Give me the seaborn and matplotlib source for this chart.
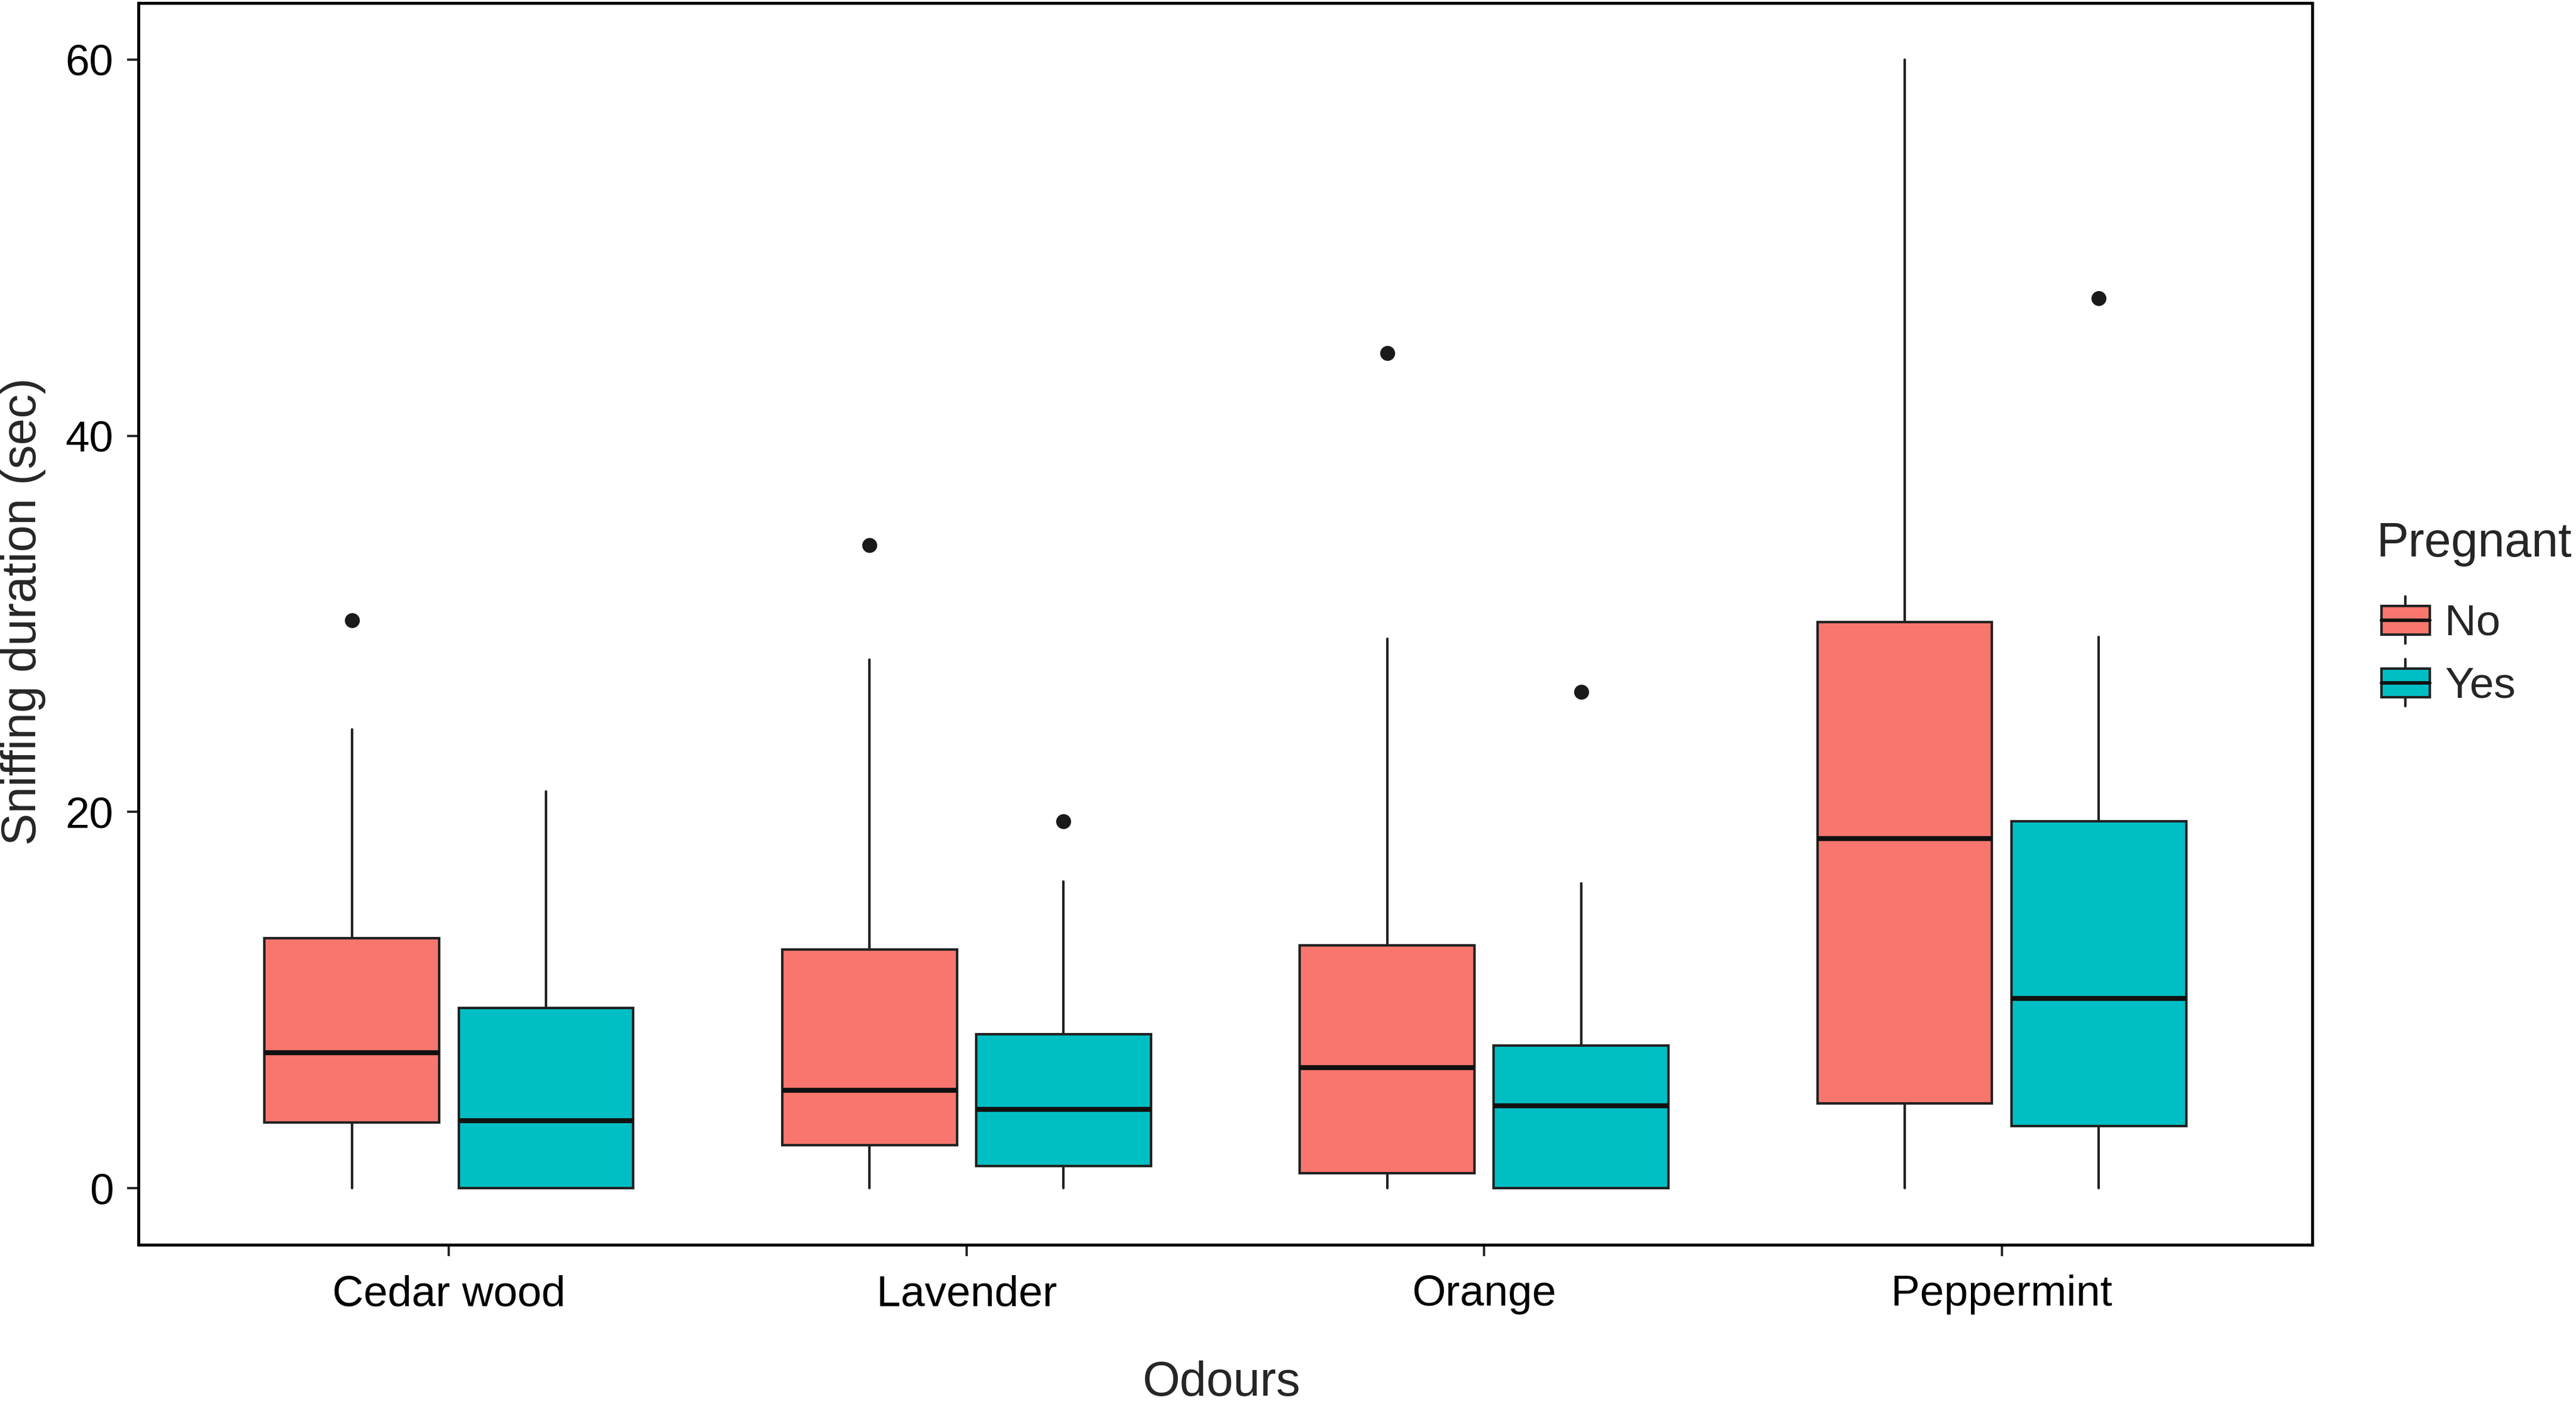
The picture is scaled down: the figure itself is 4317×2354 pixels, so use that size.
import matplotlib
matplotlib.use("Agg")
import matplotlib.pyplot as plt
import seaborn as sns
from matplotlib.legend_handler import HandlerBase
from matplotlib.patches import Rectangle, Patch
from matplotlib.lines import Line2D

# dados (resumo dos boxplots)
odours = ["Cedar wood", "Lavender", "Orange", "Peppermint"]
groups = ["No", "Yes"]

q1_no = [3.5, 2.3, 0.8, 4.5]
med_no = [7.2, 5.2, 6.4, 18.6]
q3_no = [13.3, 12.7, 12.9, 30.1]
lo_no = [0.0, 0.0, 0.0, 0.0]
hi_no = [24.4, 28.1, 29.2, 60.0]
out_no = [[30.2], [34.2], [44.4], []]

q1_yes = [0.0, 1.2, 0.0, 3.3]
med_yes = [3.6, 4.2, 4.4, 10.1]
q3_yes = [9.6, 8.2, 7.6, 19.5]
lo_yes = [0.0, 0.0, 0.0, 0.0]
hi_yes = [21.1, 16.3, 16.2, 29.3]
out_yes = [[], [19.5], [26.4], [47.3]]

yticks = [0, 20, 40, 60]

# estilo
sns.set_theme(style="white")
plt.rcParams['font.family'] = ['Liberation Sans', 'DejaVu Sans']
palette = sns.color_palette(["#F8766D", "#00BFC4"])
line_col = "#222222"


def make_stats(q1, med, q3, lo, hi, out):
    return [dict(q1=a, med=b, q3=c, whislo=d, whishi=e, fliers=f)
            for a, b, c, d, e, f in zip(q1, med, q3, lo, hi, out)]


stats = {
    "No": make_stats(q1_no, med_no, q3_no, lo_no, hi_no, out_no),
    "Yes": make_stats(q1_yes, med_yes, q3_yes, lo_yes, hi_yes, out_yes),
}

fig = plt.figure(figsize=(4317 / 300, 2354 / 300), dpi=300)
ax = fig.add_axes([232 / 4317, 1 - 2087 / 2354, (3875 - 232) / 4317, (2087 - 5) / 2354])

dodge = 0.1875
box_w = 0.3375
for k, g in enumerate(groups):
    offs = -dodge if k == 0 else dodge
    pos = [i + offs for i in range(len(odours))]
    ax.bxp(stats[g], positions=pos, widths=box_w, patch_artist=True,
           showcaps=False, manage_ticks=False,
           boxprops=dict(facecolor=palette[k], edgecolor=line_col, linewidth=1.0),
           whiskerprops=dict(color=line_col, linewidth=1.0),
           medianprops=dict(color="#111111", linewidth=2.0),
           flierprops=dict(marker="o", markerfacecolor="#1a1a1a",
                           markeredgecolor="#1a1a1a", markersize=5))

ax.set_xlim(-0.6, len(odours) - 1 + 0.6)
ax.set_ylim(-3, 63)
ax.set_xticks(range(len(odours)))
ax.set_xticklabels(odours, fontsize=17.4, color="black")
ax.set_yticks(yticks)
ax.set_yticklabels([str(t) for t in yticks], fontsize=17.4, color="black")
ax.tick_params(axis="both", which="major", length=4.5, width=0.9, color=line_col,
               bottom=True, left=True)
ax.tick_params(axis="x", pad=7.5)
ax.tick_params(axis="y", pad=5.5)

for sp in ax.spines.values():
    sp.set_visible(True)
    sp.set_color("black")
    sp.set_linewidth(1.2)

ax.set_xlabel("Odours", fontsize=19.4)
ax.set_ylabel("Sniffing duration (sec)", fontsize=19.4)
ax.xaxis.set_label_coords(0.498, -0.093)
ax.yaxis.set_label_coords(-0.0425, 0.51)


class BoxKey(HandlerBase):
    def create_artists(self, legend, orig_handle, xdescent, ydescent,
                       width, height, fontsize, trans):
        x0, y0 = -xdescent, -ydescent
        cx = x0 + width / 2
        whisk = Line2D([cx, cx], [y0, y0 + height], color=line_col, lw=1.0, transform=trans)
        box = Rectangle((x0, y0 + height * 0.2), width, height * 0.6,
                        facecolor=orig_handle.get_facecolor(), edgecolor=line_col,
                        lw=1.0, transform=trans)
        med = Line2D([x0, x0 + width], [y0 + height / 2] * 2, color="#111111",
                     lw=1.4, transform=trans)
        return [whisk, box, med]


# título da legenda
fig.text(3982 / 4317, 1 - 933 / 2354, "Pregnant", fontsize=19.4,
         ha="left", va="baseline")

handles = [Patch(facecolor=palette[k]) for k in range(len(groups))]
leg = fig.legend(handles, groups, loc="upper left",
                 bbox_to_anchor=(3991 / 4317, 1 - 1000 / 2354),
                 frameon=False, fontsize=17.5,
                 handler_map={Patch: BoxKey()}, handlelength=1.11,
                 handleheight=1.3, labelspacing=0.35, handletextpad=0.35,
                 borderpad=0, borderaxespad=0)

fig.savefig("out.png", dpi=300)
